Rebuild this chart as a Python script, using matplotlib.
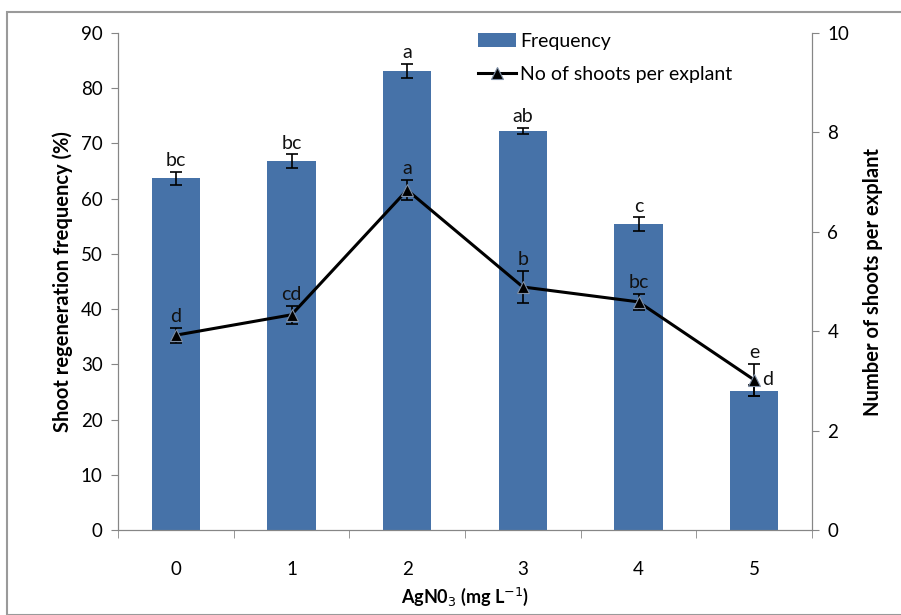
import matplotlib
matplotlib.use("Agg")
import matplotlib.pyplot as plt
from matplotlib.patches import Rectangle
import numpy as np

plt.rcParams['font.family'] = ['Lato', 'DejaVu Sans']

doses = ['0', '1', '2', '3', '4', '5']
freq = [63.7, 66.8, 83.1, 72.3, 55.4, 25.2]
freq_err = [1.2, 1.2, 1.3, 0.5, 1.2, 1.0]
freq_letters = ['bc', 'bc', 'a', 'ab', 'c', 'e']
shoots = [3.92, 4.33, 6.84, 4.89, 4.59, 3.02]
shoots_err = [0.15, 0.18, 0.2, 0.33, 0.16, 0.33]
shoots_letters = ['d', 'cd', 'a', 'b', 'bc', 'd']

bar_color = '#4672A8'
spine_color = '#868686'

fig = plt.figure(figsize=(9.01, 6.15), dpi=100)
fig.patches.append(Rectangle((7/901, 0), 2, (615-12)/615, transform=fig.transFigure,
                             fill=False, edgecolor='#9a9a9a', linewidth=1.5))
ax = fig.add_axes([118/901, (615-530)/615, (812-118)/901, (530-33)/615])
x = np.arange(len(doses))
bars = ax.bar(x, freq, width=0.42, color=bar_color, label='Frequency', zorder=2)
ax.errorbar(x, freq, yerr=freq_err, fmt='none', ecolor='black', elinewidth=1.2,
            capsize=4, capthick=1.2, zorder=3)

ax.set_xlim(-0.5, 5.5)
ax.set_ylim(0, 90)
ax.set_yticks(np.arange(0, 91, 10))
ax.set_xticks(x)
ax.set_xticklabels(doses)
ax.set_xticks(np.arange(-0.5, 5.6, 1), minor=True)
ax.tick_params(axis='x', which='major', length=0, pad=22, labelsize=13.5)
ax.tick_params(axis='x', which='minor', length=6, color=spine_color, direction='out')
ax.tick_params(axis='y', length=5, color=spine_color, labelsize=13.5, pad=6)
for s in ['left', 'bottom', 'right']:
    ax.spines[s].set_color(spine_color)
ax.spines['top'].set_visible(False)
ax.set_ylabel('Shoot regeneration frequency (%)', fontsize=14.5, fontweight='bold', labelpad=6)
ax.set_xlabel(r'AgN0$_3$ (mg L$^{-1}$)', fontsize=13, fontweight='bold', labelpad=6)

ax2 = ax.twinx()
ax2.set_ylim(0, 10)
ax2.set_yticks(np.arange(0, 11, 2))
ax2.tick_params(axis='y', length=5, color=spine_color, labelsize=13.5, pad=6)
for s in ['left', 'bottom', 'right']:
    ax2.spines[s].set_color(spine_color)
ax2.spines['top'].set_visible(False)
line, = ax2.plot(x, shoots, color='black', linewidth=2.2, marker='^', markersize=8,
                 markerfacecolor='black', markeredgecolor='#7f8fa6', markeredgewidth=0.8,
                 label='No of shoots per explant', zorder=5)
ax2.errorbar(x, shoots, yerr=shoots_err, fmt='none', ecolor='black', elinewidth=1.2,
             capsize=4, capthick=1.2, zorder=4)

# letters for bars (placed above any overlapping marks)
ratio = 90 / 10
for i, (xi, v, e, t) in enumerate(zip(x, freq, freq_err, freq_letters)):
    top = v + e
    s_top = (shoots[i] + shoots_err[i]) * ratio
    if abs(s_top - top) < 6:
        top = max(top, s_top)
    ax2.text(xi, (top + 0.5) / ratio, t, ha='center', va='bottom', fontsize=14,
             color='#111111', zorder=6)

for i, (xi, v, e, t) in enumerate(zip(x, shoots, shoots_err, shoots_letters)):
    if i == len(x) - 1:
        ax2.text(xi + 0.07, v, t, ha='left', va='center', fontsize=14, color='#111111', zorder=6)
    else:
        ax2.text(xi, v + e + 0.06, t, ha='center', va='bottom', fontsize=14, color='#111111', zorder=6)
ax2.set_ylabel('Number of shoots per explant', fontsize=14.5, fontweight='bold', labelpad=10)

ax.set_zorder(1)
ax2.set_zorder(2)
ax.patch.set_visible(False)

leg = ax2.legend([bars, line], ['Frequency', 'No of shoots per explant'],
                 loc='upper left', bbox_to_anchor=((460-118)/694, 1.035), frameon=False,
                 fontsize=14, handlelength=2.0, handletextpad=0.2, labelspacing=0.8)

fig.savefig('out.png', dpi=100)
